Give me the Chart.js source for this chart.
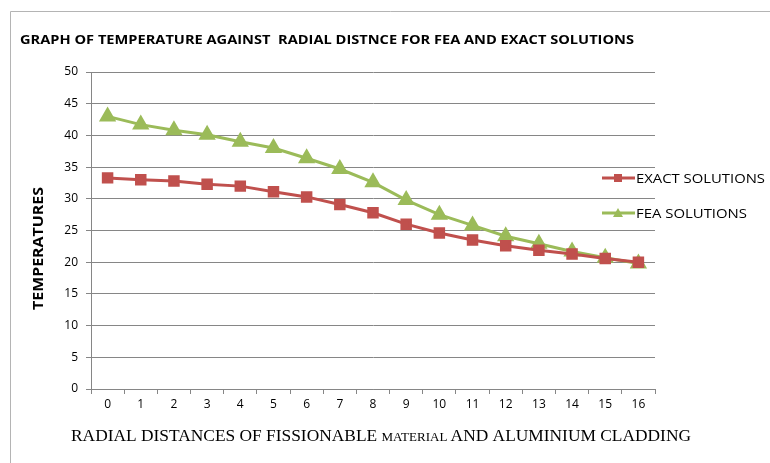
<!DOCTYPE html>
<html>
<head>
<meta charset="utf-8">
<script src="https://cdn.jsdelivr.net/npm/chart.js@4"></script>
<style>
  body { margin: 0; background: #fff; }
  #wrap { width: 770px; height: 463px; position: relative; }
</style>
</head>
<body>
<div id="wrap"><canvas id="chart" width="770" height="463"></canvas></div>
<script>
const distances = ["0","1","2","3","4","5","6","7","8","9","10","11","12","13","14","15","16"];
const exactSolutions = [33.3, 33.0, 32.8, 32.3, 32.0, 31.1, 30.3, 29.1, 27.8, 26.0, 24.6, 23.5, 22.6, 21.9, 21.3, 20.6, 20.0];
const feaSolutions = [43.0, 41.7, 40.8, 40.1, 39.0, 38.0, 36.4, 34.7, 32.6, 29.8, 27.5, 25.8, 24.1, 22.9, 21.7, 20.7, 19.8];
const yTicks = [0, 5, 10, 15, 20, 25, 30, 35, 40, 45, 50];

const red = "#C0504D";
const green = "#9BBB59";
const tickFont = "'Open Sans', 'DejaVu Sans', sans-serif";

// etire le texte pour lui donner une largeur donnee
function fitText(c, text, x, y, w) {
  const m = c.measureText(text).width;
  c.save();
  c.translate(x, y);
  c.scale(w / m, 1);
  c.fillText(text, 0, 0);
  c.restore();
}

// texte, legende et cadre dessines a la main
const decor = {
  id: "decor",
  beforeDraw(chart) {
    const c = chart.ctx;
    c.save();
    c.fillStyle = "#fff";
    c.fillRect(0, 0, chart.width, chart.height);
    c.strokeStyle = "#b4b4b4";
    c.lineWidth = 1;
    c.beginPath();
    c.moveTo(10.5, 463);
    c.lineTo(10.5, 11.5);
    c.lineTo(770, 11.5);
    c.stroke();
    c.restore();
  },
  afterDraw(chart) {
    const c = chart.ctx;
    c.save();
    c.fillStyle = "#000";
    c.textBaseline = "alphabetic";
    c.textAlign = "left";
    c.font = "bold 13px 'Open Sans', sans-serif";
    fitText(c, "GRAPH OF TEMPERATURE AGAINST  RADIAL DISTNCE FOR FEA AND EXACT SOLUTIONS", 20, 44, 614);

    // titre axe y
    c.save();
    c.translate(43, 310);
    c.rotate(-Math.PI / 2);
    c.font = "bold 14px 'Open Sans', sans-serif";
    fitText(c, "TEMPERATURES", 0, 0, 123);
    c.restore();

    // titre axe x (serif, MATERIAL plus petit)
    const parts = [
      ["RADIAL DISTANCES OF FISSIONABLE ", "16px 'Liberation Serif', serif"],
      ["MATERIAL ", "12px 'Liberation Serif', serif"],
      ["AND ALUMINIUM CLADDING", "16px 'Liberation Serif', serif"]
    ];
    let total = 0;
    parts.forEach(p => { c.font = p[1]; total += c.measureText(p[0]).width; });
    const k = 620 / total;
    let x = 71;
    parts.forEach(p => {
      c.font = p[1];
      const w = c.measureText(p[0]).width * k;
      fitText(c, p[0], x, 441, w);
      x += w;
    });

    // legende
    const items = [["EXACT SOLUTIONS", red, "rect", 178], ["FEA SOLUTIONS", green, "triangle", 213]];
    items.forEach(([label, col, shape, y]) => {
      c.strokeStyle = col;
      c.fillStyle = col;
      c.lineWidth = 3;
      c.beginPath();
      c.moveTo(602, y);
      c.lineTo(635, y);
      c.stroke();
      c.beginPath();
      if (shape === "rect") {
        c.fillRect(614, y - 4, 8, 8);
      } else {
        c.moveTo(618, y - 5);
        c.lineTo(623, y + 4);
        c.lineTo(613, y + 4);
        c.closePath();
        c.fill();
      }
      c.fillStyle = "#000";
      c.font = "13px " + tickFont;
      fitText(c, label, 636, y + 5, label === "EXACT SOLUTIONS" ? 129 : 111);
    });
    c.restore();
  }
};

new Chart(document.getElementById("chart"), {
  type: "line",
  data: {
    labels: distances,
    datasets: [
      {
        label: "EXACT SOLUTIONS",
        data: exactSolutions,
        borderColor: red,
        backgroundColor: red,
        borderWidth: 3,
        pointStyle: "rect",
        pointRadius: 6,
        pointHoverRadius: 6,
        tension: 0
      },
      {
        label: "FEA SOLUTIONS",
        data: feaSolutions,
        borderColor: green,
        backgroundColor: green,
        borderWidth: 3,
        pointStyle: "triangle",
        pointRadius: 7,
        pointHoverRadius: 7,
        tension: 0
      }
    ]
  },
  options: {
    responsive: false,
    animation: false,
    layout: { padding: { left: 0, top: 72, right: 115, bottom: 0 } },
    plugins: {
      legend: { display: false },
      title: { display: false },
      tooltip: { enabled: false }
    },
    scales: {
      x: {
        offset: true,
        afterFit: s => { s.height = 74; },
        grid: {
          offset: true,
          drawOnChartArea: false,
          drawTicks: true,
          tickLength: 5,
          color: "#868686"
        },
        border: { color: "#868686", width: 1 },
        ticks: {
          color: "#000",
          font: { family: tickFont, size: 12 },
          padding: 3,
          autoSkip: false,
          maxRotation: 0
        }
      },
      y: {
        min: 0,
        max: 50,
        afterFit: s => { s.width = 91; },
        afterBuildTicks: s => { s.ticks = yTicks.map(v => ({ value: v })); },
        grid: {
          color: "#868686",
          tickLength: 5,
          drawTicks: true
        },
        border: { color: "#868686", width: 1 },
        ticks: {
          color: "#000",
          font: { family: tickFont, size: 12 },
          padding: 8
        }
      }
    }
  },
  plugins: [decor]
});
</script>
</body>
</html>
